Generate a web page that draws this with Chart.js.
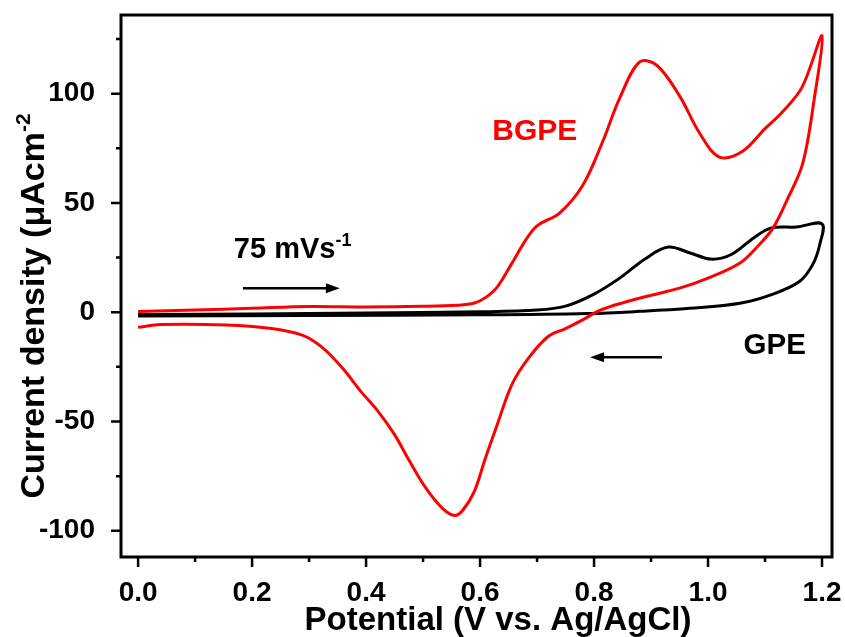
<!DOCTYPE html>
<html>
<head>
<meta charset="utf-8">
<script src="https://cdn.jsdelivr.net/npm/chart.js@4/dist/chart.umd.min.js"></script>
<style>
  html, body { margin:0; padding:0; background:#fff; }
  #wrap { width:845px; height:637px; }
</style>
</head>
<body>
<div id="wrap"><canvas id="cv"></canvas></div>
<script>
// BGPE cycle: forward scan to 1.2 V, then back to 0 V
const bgpeV = [0.00,0.10,0.20,0.30,0.40,0.50,0.56,0.59,0.61,0.63,0.655,0.68,0.70,0.74,0.78,0.815,0.845,0.88,0.91,0.95,0.985,1.02,1.06,1.10,1.13,1.165,1.20,
               1.186,1.166,1.138,1.114,1.09,1.056,1.00,0.95,0.893,0.85,0.81,0.78,0.75,0.72,0.685,0.656,0.628,0.609,0.59,0.57,0.556,0.535,0.505,0.476,0.45,0.42,0.39,0.36,0.325,0.288,0.23,0.155,0.04,0.00];
const bgpeJ = [0.3,1.0,1.8,2.6,2.4,2.7,3.2,4.2,6.8,11.5,22,33,39.5,45.5,58,78,98,114.5,113,99,82,71,73.5,84,91.5,103,126.5,
               97,68,51,38.5,31,22.5,15.6,11,7.3,4.3,0.8,-3.5,-7.5,-11,-21,-33,-53,-67,-82,-90.5,-93,-90,-80.5,-68,-56,-45,-36,-26,-16.5,-10.5,-7.3,-5.8,-5.6,-6.9];

// GPE cycle
const gpeV = [0.00,0.20,0.40,0.60,0.70,0.75,0.80,0.845,0.89,0.93,0.97,1.005,1.04,1.08,1.11,1.155,1.20,
              1.196,1.184,1.161,1.114,1.056,0.968,0.88,0.79,0.60,0.30,0.00];
const gpeJ = [-1.0,-0.8,-0.4,0.2,1.0,2.8,8.3,15.6,24.5,29.8,27,24.3,26.3,34,38.5,39,40.4,
              31,22,14.2,8.3,4.1,1.8,0.4,-0.6,-1.2,-1.5,-1.7];

const xTicks = [0.0,0.2,0.4,0.6,0.8,1.0,1.2];
const yTicks = [-100,-50,0,50,100];
const xMinor = [0.1,0.3,0.5,0.7,0.9,1.1];
const yMinor = [-75,-25,25,75,125];

const FONT = '"Liberation Sans", Arial, sans-serif';

const toPts = (xs, ys) => xs.map((x, i) => ({x:x, y:ys[i]}));

// text with an optional raised suffix
function supText(ctx, x, y, main, sup, size, align){
  ctx.font = 'bold ' + size + 'px ' + FONT;
  const w1 = ctx.measureText(main).width;
  ctx.font = 'bold ' + Math.round(size*0.62) + 'px ' + FONT;
  const w2 = sup ? ctx.measureText(sup).width : 0;
  let x0 = x;
  if(align === 'center') x0 = x - (w1 + w2)/2;
  ctx.textAlign = 'left';
  ctx.textBaseline = 'alphabetic';
  ctx.font = 'bold ' + size + 'px ' + FONT;
  ctx.fillText(main, x0, y);
  if(sup){
    ctx.font = 'bold ' + Math.round(size*0.62) + 'px ' + FONT;
    ctx.fillText(sup, x0 + w1, y - size*0.42);
  }
}

function arrow(ctx, x1, y, x2){
  const dir = Math.sign(x2 - x1);
  ctx.beginPath();
  ctx.moveTo(x1, y);
  ctx.lineTo(x2 - dir*10, y);
  ctx.lineWidth = 2.5;
  ctx.stroke();
  ctx.beginPath();
  ctx.moveTo(x2, y);
  ctx.lineTo(x2 - dir*14, y - 5);
  ctx.lineTo(x2 - dir*14, y + 5);
  ctx.closePath();
  ctx.fill();
}

const decor = {
  id:'decor',
  afterDraw(chart){
    const {ctx, chartArea:a, scales:{x, y}} = chart;
    ctx.save();
    ctx.strokeStyle = '#000';
    ctx.fillStyle = '#000';

    // frame
    ctx.lineWidth = 3;
    ctx.strokeRect(a.left, a.top, a.right - a.left, a.bottom - a.top);

    // tick marks, outward
    ctx.lineWidth = 2.5;
    ctx.beginPath();
    xTicks.forEach(v => { const p = x.getPixelForValue(v); ctx.moveTo(p, a.bottom); ctx.lineTo(p, a.bottom + 10); });
    xMinor.forEach(v => { const p = x.getPixelForValue(v); ctx.moveTo(p, a.bottom); ctx.lineTo(p, a.bottom + 5); });
    yTicks.forEach(v => { const p = y.getPixelForValue(v); ctx.moveTo(a.left, p); ctx.lineTo(a.left - 10, p); });
    yMinor.forEach(v => { const p = y.getPixelForValue(v); ctx.moveTo(a.left, p); ctx.lineTo(a.left - 5, p); });
    ctx.stroke();

    // labels
    ctx.fillStyle = '#ff0000';
    supText(ctx, x.getPixelForValue(0.696), y.getPixelForValue(84) + 11, 'BGPE', '', 30, 'center');
    ctx.fillStyle = '#000';
    supText(ctx, x.getPixelForValue(0.168), y.getPixelForValue(29.8) + 11, '75 mVs', '-1', 29, 'left');
    supText(ctx, x.getPixelForValue(1.117), y.getPixelForValue(-14.2) + 11, 'GPE', '', 29.5, 'center');

    // scan direction arrows
    arrow(ctx, x.getPixelForValue(0.184), y.getPixelForValue(11), x.getPixelForValue(0.354));
    arrow(ctx, x.getPixelForValue(0.919), y.getPixelForValue(-20.6), x.getPixelForValue(0.793));

    // axis titles
    supText(ctx, 498, 630, 'Potential (V vs. Ag/AgCl)', '', 33, 'center');
    ctx.save();
    ctx.translate(44, 306);
    ctx.rotate(-Math.PI/2);
    supText(ctx, 0, 0, 'Current density (\u03bcAcm', '-2', 34, 'center');
    ctx.restore();
    ctx.restore();
  }
};

new Chart(document.getElementById('cv'), {
  type:'scatter',
  data:{
    datasets:[
      { label:'BGPE', data:toPts(bgpeV, bgpeJ), showLine:true, borderColor:'#ff0000', borderWidth:3, pointRadius:0, tension:0.35 },
      { label:'GPE', data:toPts(gpeV, gpeJ), showLine:true, borderColor:'#000000', borderWidth:3, pointRadius:0, tension:0.35 }
    ]
  },
  options:{
    responsive:true, maintainAspectRatio:false, animation:false,
    layout:{ padding:{ top:15, right:13, left:0, bottom:0 } },
    plugins:{ legend:{display:false}, tooltip:{enabled:false} },
    scales:{
      x:{
        type:'linear', min:-0.03, max:1.2175, border:{display:false},
        grid:{ display:false },
        afterFit(s){ s.height = 80; s.paddingLeft = 0; s.paddingRight = 0; },
        afterBuildTicks(s){ s.ticks = xTicks.map(v => ({value:v})); },
        ticks:{ color:'#000', padding:11, font:{family:FONT, weight:'bold', size:28},
                callback:v => v.toFixed(1), maxRotation:0, autoSkip:false }
      },
      y:{
        min:-112, max:136, border:{display:false},
        grid:{ display:false },
        afterFit(s){ s.width = 121; s.paddingTop = 0; s.paddingBottom = 0; },
        afterBuildTicks(s){ s.ticks = yTicks.map(v => ({value:v})); },
        ticks:{ color:'#000', padding:18, font:{family:FONT, weight:'bold', size:28} }
      }
    }
  },
  plugins:[decor]
});
</script>
</body>
</html>
